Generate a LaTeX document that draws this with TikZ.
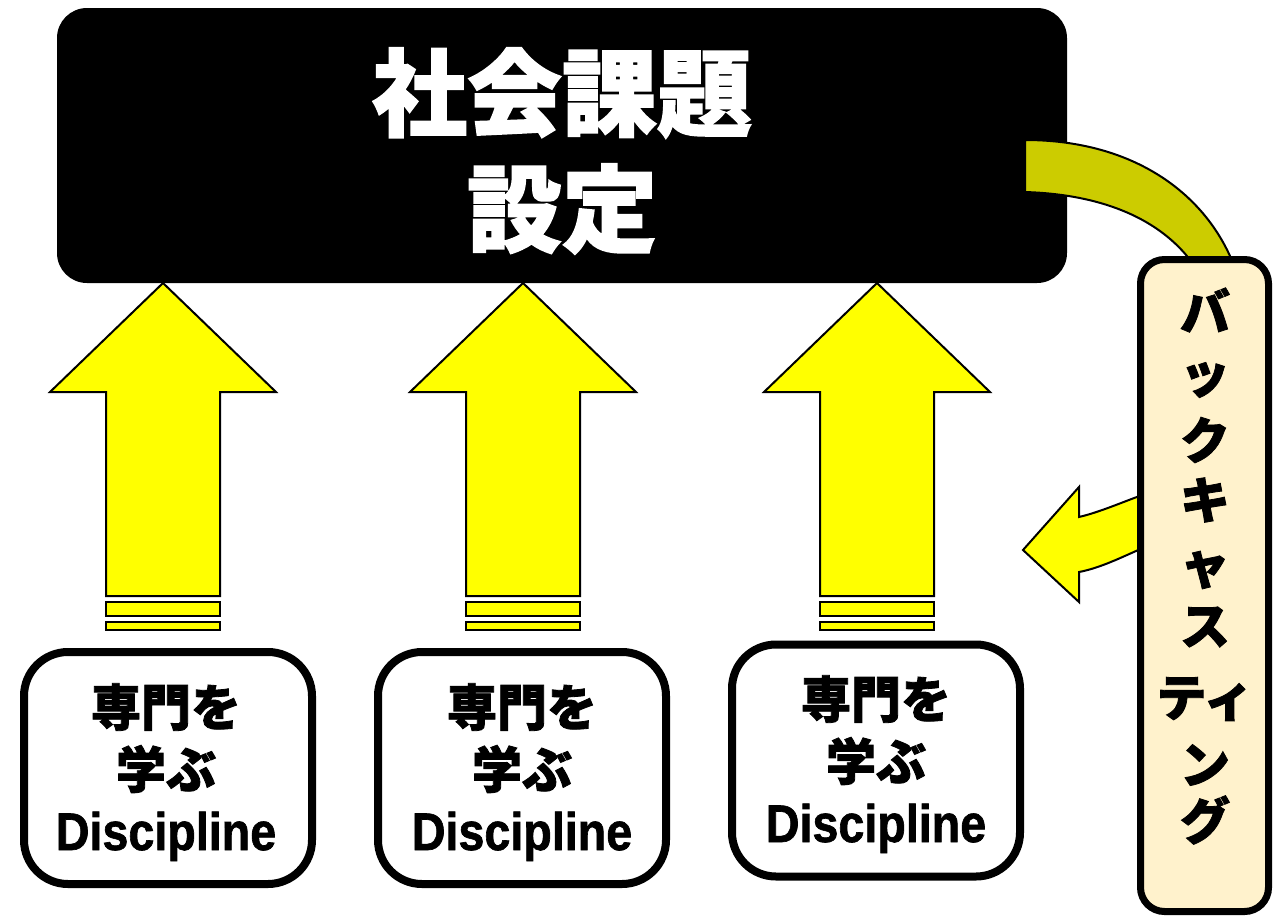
\documentclass[tikz,border=0pt]{standalone}
\usepackage{fontspec}
\newfontfamily\jp{Noto Sans CJK JP}[BoldFeatures={FakeBold=1.6}]
\newfontfamily\lat{Liberation Sans}[BoldFeatures={FakeBold=1.2, FakeStretch=0.88}]
\definecolor{arrowyellow}{HTML}{FFFF00}
\definecolor{olive}{HTML}{CCCC00}
\definecolor{cream}{HTML}{FFF2CC}
\tikzset{
  blockarrow/.style={fill=arrowyellow, draw=black, line width=1pt, line join=miter},
  bandarrow/.style={fill=olive, draw=black, line width=1pt},
  topbox/.style={fill=black, rounded corners=15pt, minimum width=505pt, minimum height=137.5pt, inner sep=0pt},
  learnbox/.style={draw=black, fill=white, line width=4pt, rounded corners=22pt, minimum width=144pt, minimum height=116pt, inner sep=0pt},
  sidebox/.style={draw=black, fill=cream, line width=3.5pt, rounded corners=12pt, minimum width=64pt, minimum height=326pt, inner sep=0pt},
  bigtxt/.style={text=white, font=\jp\bfseries\fontsize{47.5pt}{50pt}\selectfont, inner sep=0pt},
  jptxt/.style={font=\jp\bfseries\fontsize{25pt}{27pt}\selectfont, inner sep=0pt},
  lattxt/.style={font=\lat\bfseries\fontsize{26.5pt}{28pt}\selectfont, inner sep=0pt, anchor=base},
  vtxt/.style={font=\jp\bfseries\fontsize{25pt}{27pt}\selectfont, inner sep=0pt}
}
\begin{document}
\begin{tikzpicture}[x=0.5pt,y=-0.5pt]
\useasboundingbox (0,0) rectangle (1281,923);
% top box
\node[topbox] (top) at (562,145.5) {};
% olive curved band from top box to side box
\draw[bandarrow] (1025,140) .. controls (1130,140) and (1200,190) .. (1230,256)
  -- (1236,270) -- (1192,270) -- (1187,256)
  .. controls (1150,212) and (1090,194) .. (1025,192) -- cycle;
\node[bigtxt] (t1) at (562,93) {社会課題};
\node[bigtxt] (t2) at (562,209) {設定};
% up arrows
\foreach \cx [count=\i] in {163,523,877}{
  \draw[blockarrow] (\cx,283) -- (\cx+113,392) -- (\cx+57,392) -- (\cx+57,596)
    -- (\cx-57,596) -- (\cx-57,392) -- (\cx-113,392) -- cycle;
  \draw[blockarrow] (\cx-57,602) rectangle (\cx+57,616);
  \draw[blockarrow] (\cx-57,622) rectangle (\cx+57,630);
}
% learning boxes
\node[learnbox] (b1) at (168,768) {};
\node[learnbox] (b2) at (522,768) {};
\node[learnbox] (b3) at (876,760.5) {};
\foreach \bx/\dy [count=\i] in {166/0,522/0,876/-8}{
  \node[jptxt] (s\i a) at (\bx,707+\dy) {専門を};
  \node[jptxt] (s\i b) at (\bx,769+\dy) {学ぶ};
  \node[lattxt] (s\i c) at (\bx,850+\dy) {Discipline};
}
% left arrow from side box
\draw[blockarrow] (1145,494) .. controls (1120,503) and (1100,512) .. (1079,517)
  -- (1079,487) -- (1023,550) -- (1079,602) -- (1079,572)
  .. controls (1100,568) and (1120,558) .. (1145,547) -- cycle;
% side box
\node[sidebox] (side) at (1204.5,585.5) {};
\foreach \yy/\ch [count=\i] in {310/バ,380/ッ,440/ク,500/キ,570/ャ,627/ス,699/ティ,765/ン,820/グ}{
  \node[vtxt] (v\i) at (1205,\yy) {\ch};
}
\end{tikzpicture}
\end{document}
